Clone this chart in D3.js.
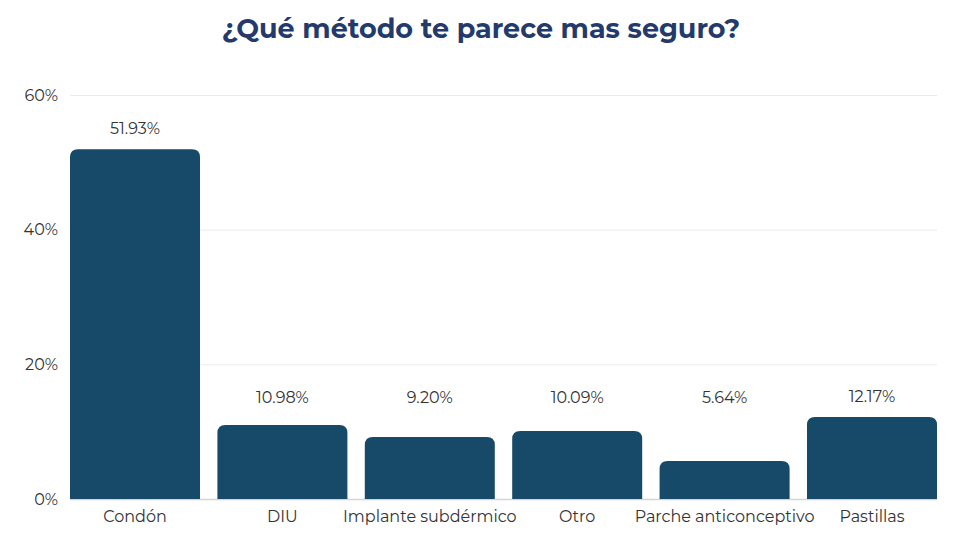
<!DOCTYPE html>
<html>
<head>
<meta charset="utf-8">
<script src="https://cdn.jsdelivr.net/npm/d3@7"></script>
<style>
  body { margin: 0; background: #fff; }
  svg { font-family: "Montserrat", "Noto Sans", "Open Sans", sans-serif; }
</style>
</head>
<body>
<div id="chart"></div>
<script>
// Data
const categories = ["Condón", "DIU", "Implante subdérmico", "Otro", "Parche anticonceptivo", "Pastillas"];
const values = [51.93, 10.98, 9.20, 10.09, 5.64, 12.17];
const yTicks = [0, 20, 40, 60];

const width = 960;
const height = 540;
const margin = { top: 95, right: 23, bottom: 41, left: 70 };

const svg = d3
  .select("#chart")
  .append("svg")
  .attr("width", width)
  .attr("height", height);

// Title
svg
  .append("text")
  .attr("x", 481)
  .attr("y", 38)
  .attr("text-anchor", "middle")
  .attr("font-size", "27px")
  .attr("font-weight", "bold")
  .attr("fill", "#233a6c")
  .text("¿Qué método te parece mas seguro?");

// Scales
const x = d3
  .scaleBand()
  .domain(categories)
  .range([margin.left, width - margin.right])
  .paddingInner(0.118)
  .paddingOuter(0);

const y = d3
  .scaleLinear()
  .domain([0, 60])
  .range([height - margin.bottom, margin.top]);

// Gridlines + y labels
const yAxis = svg
  .append("g")
  .attr("transform", `translate(${margin.left},0)`)
  .call(
    d3.axisLeft(y)
      .tickValues(yTicks)
      .tickSize(-(width - margin.left - margin.right))
      .tickFormat((d) => d + "%")
  );
yAxis.select(".domain").remove();
yAxis
  .selectAll(".tick line")
  .attr("stroke", (d) => (d === 0 ? "#d4d4d4" : "#ebebeb"))
  .attr("stroke-width", (d) => (d === 0 ? 1.5 : 1));
yAxis
  .selectAll(".tick text")
  .attr("x", -12)
  .attr("font-size", "16px")
  .attr("fill", "#333")
  .attr("font-family", "Montserrat, Noto Sans, sans-serif");

// Bars with rounded top corners
const r = 8;
const barPath = (d, i) => {
  const x0 = x(categories[i]);
  const w = x.bandwidth();
  const y0 = y(0);
  const y1 = y(d);
  return `M${x0},${y0}V${y1 + r}Q${x0},${y1} ${x0 + r},${y1}H${x0 + w - r}Q${x0 + w},${y1} ${x0 + w},${y1 + r}V${y0}Z`;
};

svg
  .append("g")
  .selectAll("path")
  .data(values)
  .enter()
  .append("path")
  .attr("d", barPath)
  .attr("fill", "#174a68");

// Value labels
svg
  .append("g")
  .selectAll("text")
  .data(values)
  .enter()
  .append("text")
  .attr("x", (d, i) => x(categories[i]) + x.bandwidth() / 2)
  .attr("y", (d) => Math.min(y(d) - 15, y(0) - 96))
  .attr("text-anchor", "middle")
  .attr("font-size", "16px")
  .attr("fill", "#333")
  .text((d) => d.toFixed(2) + "%");

// Category labels
const xAxis = svg
  .append("g")
  .attr("transform", `translate(0,${y(0)})`)
  .call(d3.axisBottom(x).tickSize(0).tickPadding(12));
xAxis.select(".domain").remove();
xAxis
  .selectAll(".tick text")
  .attr("font-size", "16px")
  .attr("fill", "#333")
  .attr("font-family", "Montserrat, Noto Sans, sans-serif");
</script>
</body>
</html>
